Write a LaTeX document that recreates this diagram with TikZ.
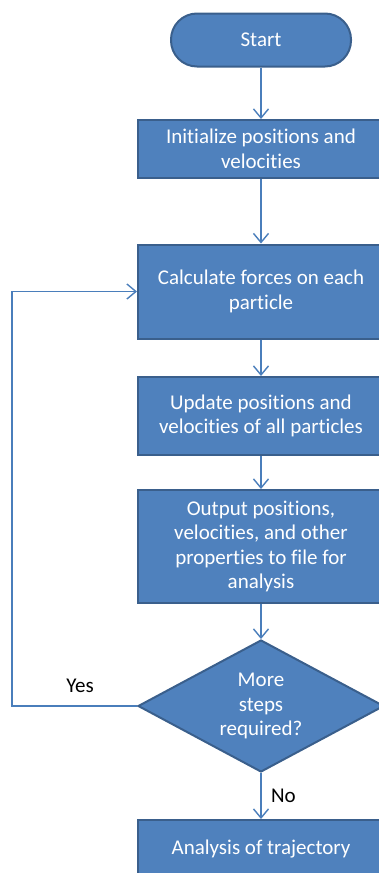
\documentclass[tikz,border=0pt]{standalone}
\usepackage{fontspec}
\setmainfont{Carlito}[Ligatures=NoCommon]
\usepackage{tikz}
\usetikzlibrary{positioning,arrows.meta,shapes.geometric}
\definecolor{boxfill}{HTML}{4F81BD}
\definecolor{boxline}{HTML}{3A5F8C}
\definecolor{linkblue}{HTML}{4A7EBB}

\begin{document}
\begin{tikzpicture}[x=1pt, y=-1pt,
  stepbox/.style={rectangle, draw=boxline, fill=boxfill, line width=2pt, text=white,
    align=center, minimum width=246pt, inner sep=0pt, font=\fontsize{21}{24.5}\selectfont},
  startbox/.style={stepbox, rounded corners=26pt, minimum width=180pt, minimum height=53pt},
  decision/.style={stepbox, diamond, aspect=1.85, minimum width=246pt, minimum height=132pt},
  link/.style={draw=linkblue, line width=1.4pt, -{Straight Barb[length=9pt,width=15pt]}},
  tag/.style={font=\fontsize{21}{24.5}\selectfont, text=black}]
  \useasboundingbox (0,0) rectangle (379,873);
  \clip (0,0) rectangle (379,873);

  % Debut
  \node[startbox] (start) at (261, 40) {Start};

  % Etapes
  \node[stepbox, minimum height=58pt] (init) at (261, 149) {Initialize positions and\\velocities};
  \node[stepbox, minimum height=94pt] (calc) at (261, 291.5) {Calculate forces on each\\particle};
  \node[stepbox, minimum height=78pt] (update) at (261, 416) {Update positions and\\velocities of all particles};
  \node[stepbox, minimum height=113pt] (output) at (261, 546.5) {Output positions,\\velocities, and other\\properties to file for\\analysis};

  % Test
  \node[decision] (more) at (261, 706) {More\\steps\\required?};

  % Fin
  \node[stepbox, minimum height=58pt] (analysis) at (261, 849) {Analysis of trajectory};

  % Connexions
  \draw[link] (start) -- (init);
  \draw[link] (init) -- (calc);
  \draw[link] (calc) -- (update);
  \draw[link] (update) -- (output);
  \draw[link] (output) -- (more);
  \draw[link] (more) -- node[tag, right=6pt] (no) {No} (analysis);

  % Boucle
  \coordinate (loopx) at (12, 706);
  \draw[link] (more.west) -- (loopx) |- (calc.west);
  \node[tag] (yes) at (80, 686) {Yes};
\end{tikzpicture}
\end{document}
